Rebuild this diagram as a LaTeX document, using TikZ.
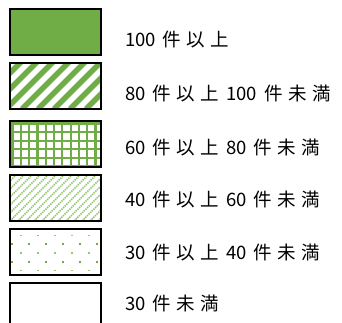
\documentclass[tikz,border=0pt]{standalone}
\usepackage{fontspec}
\newfontfamily\jpfont{Noto Sans CJK JP}
\definecolor{lgreen}{RGB}{112,173,71}
\definecolor{lgreenlight}{RGB}{150,200,110}
\newcommand\kg{\hspace{5.5pt}}
\newcommand\wsp{\hspace{7pt}}
\begin{document}
\begin{tikzpicture}[x=1pt,y=-1pt,
  legbox/.style={draw=black,line width=2pt,minimum width=91pt,minimum height=46pt,inner sep=0pt},
  legtext/.style={anchor=west,inner sep=0pt,font=\jpfont\fontsize{18.5pt}{18.5pt}\selectfont}]
\useasboundingbox (0,0) rectangle (342,322);
% box 1 solid
\fill[lgreen] (10,9) rectangle (101,55);
\node[legbox] (b1) at (55.5,32) {};
% box 2 wide stripes
\begin{scope}
\clip (10,63) rectangle (101,109);
\foreach \i in {-4,...,8} {
  \draw[lgreen,line width=5.5pt] (6+\i*16,109) -- ++(50,-50);
}
\end{scope}
\node[legbox] (b2) at (55.5,86) {};
% box 3 grid
\begin{scope}
\clip (10,121) rectangle (101,167);
\foreach \i in {0,...,11} {
  \draw[lgreen,line width=2.2pt] (12.5+\i*8.3,121) -- ++(0,46);
}
\foreach \j in {0,...,5} {
  \draw[lgreen,line width=2.2pt] (10,123.5+\j*8.6) -- ++(91,0);
}
\end{scope}
\node[legbox] (b3) at (55.5,144) {};
% box 4 fine diagonal dotted
\begin{scope}
\clip (10,175) rectangle (101,221);
\foreach \i in {-7,...,13} {
  \draw[lgreenlight,line width=1.5pt,dash pattern=on 1.5pt off 0.8pt] (10+\i*8,221) -- ++(50,-50);
}
\end{scope}
\node[legbox] (b4) at (55.5,198) {};
% box 5 sparse dots
\begin{scope}
\clip (10,229) rectangle (101,275);
\foreach \i in {0,...,4} {
  \fill[lgreenlight] (19.5+\i*17,235) rectangle ++(2,1.2);
  \fill[lgreenlight] (19.5+\i*17,252.3) rectangle ++(2,1.2);
  \fill[lgreenlight] (19.5+\i*17,269.7) rectangle ++(2,1.2);
}
\foreach \i in {0,...,5} {
  \fill[lgreen] (11+\i*17,243.3) rectangle ++(2,2);
  \fill[lgreen] (11+\i*17,260.6) rectangle ++(2,2);
}
\end{scope}
\node[legbox] (b5) at (55.5,252) {};
% box 6 empty
\node[legbox] (b6) at (55.5,306) {};
% labels
\node[legtext] (t1) at (125,40) {100\wsp 件\kg 以\kg 上};
\node[legtext] (t2) at (125,93) {80\wsp 件\kg 以\kg 上\wsp 100\wsp 件\kg 未\kg 満};
\node[legtext] (t3) at (125,147) {60\wsp 件\kg 以\kg 上\wsp 80\wsp 件\kg 未\kg 満};
\node[legtext] (t4) at (125,199) {40\wsp 件\kg 以\kg 上\wsp 60\wsp 件\kg 未\kg 満};
\node[legtext] (t5) at (125,252) {30\wsp 件\kg 以\kg 上\wsp 40\wsp 件\kg 未\kg 満};
\node[legtext] (t6) at (125,303) {30\wsp 件\kg 未\kg 満};
\end{tikzpicture}
\end{document}
